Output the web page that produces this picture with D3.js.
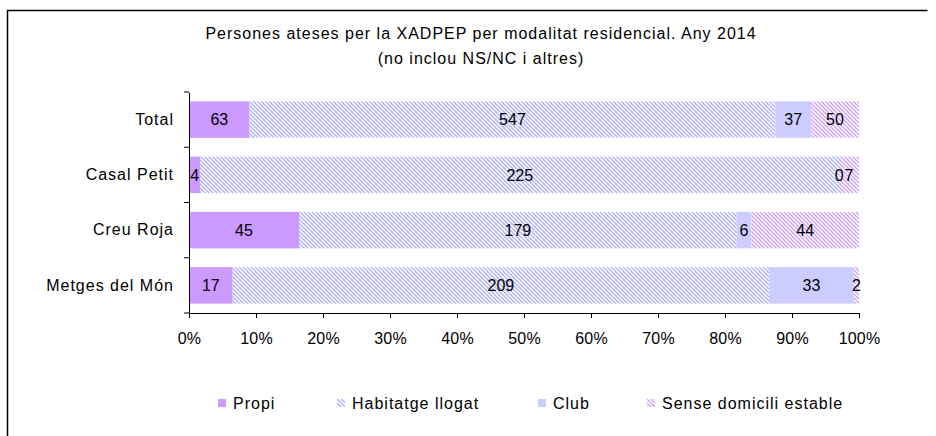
<!DOCTYPE html>
<html><head><meta charset="utf-8">
<script src="https://cdn.jsdelivr.net/npm/d3@7"></script>
<style>
body{margin:0;background:#fff}
text{font-family:"Liberation Sans",Arial,sans-serif;fill:#000}
</style>
</head><body>
<svg id="c" width="936" height="436"></svg>
<script>
const categories = ["Total", "Casal Petit", "Creu Roja", "Metges del Món"];
const seriesNames = ["Propi", "Habitatge llogat", "Club", "Sense domicili estable"];
const propi = [63, 4, 45, 17];
const habitatge = [547, 225, 179, 209];
const club = [37, 0, 6, 33];
const sense = [50, 7, 44, 2];
const xTicks = [0, 0.1, 0.2, 0.3, 0.4, 0.5, 0.6, 0.7, 0.8, 0.9, 1];
const titleLines = ["Persones ateses per la XADPEP per modalitat residencial. Any 2014", "(no inclou NS/NC i altres)"];

const FS = 16, LS = 1;
const svg = d3.select("#c");
const defs = svg.append("defs");
function hatch(id, color) {
  const p = defs.append("pattern").attr("id", id).attr("width", 4).attr("height", 4)
    .attr("patternUnits", "userSpaceOnUse");
  p.append("rect").attr("width", 4).attr("height", 4).attr("fill", "#fff");
  p.append("path").attr("d", "M-1,-1L5,5M-1,3L1,5M3,-1L5,1")
    .attr("stroke", color).attr("stroke-width", 1.3).attr("fill", "none");
}
hatch("hBlue", "#b0b0f6");
hatch("hPurple", "#d0a0fa");
const fills = ["#cc99ff", "url(#hBlue)", "#ccccff", "url(#hPurple)"];
const colorOf = d3.scaleOrdinal(seriesNames, fills);

// frame
svg.append("path").attr("d", "M7.5,436V10.5H927.5").attr("fill", "none").attr("stroke", "#000").attr("stroke-width", 1.5);

// title
svg.append("g").selectAll("text").data(titleLines).join("text")
  .attr("x", 481).attr("y", (d, i) => 39 + i * 25).attr("text-anchor", "middle")
  .style("font-size", FS + "px").style("letter-spacing", LS + "px").text(d => d);

const rows = categories.map((c, i) => ({
  cat: c, "Propi": propi[i], "Habitatge llogat": habitatge[i], "Club": club[i], "Sense domicili estable": sense[i]
}));
const stack = d3.stack().keys(seriesNames).offset(d3.stackOffsetExpand)(rows);

const x = d3.scaleLinear([0, 1], [189, 859]);
const y = d3.scaleBand(categories, [92, 313]).paddingInner(0.34).paddingOuter(0.17);

const gBars = svg.append("g");
stack.forEach(s => {
  gBars.append("g").attr("fill", colorOf(s.key)).selectAll("rect").data(s).join("rect")
    .attr("x", d => x(d[0])).attr("width", d => x(d[1]) - x(d[0]))
    .attr("y", d => y(d.data.cat)).attr("height", y.bandwidth());
});
const gLab = svg.append("g");
stack.forEach(s => {
  gLab.append("g").selectAll("text").data(s).join("text")
    .attr("x", d => x((d[0] + d[1]) / 2)).attr("y", d => y(d.data.cat) + y.bandwidth() / 2)
    .attr("dy", "0.36em").attr("text-anchor", "middle")
    .style("font-size", FS + "px")
    .text(d => d.data[s.key]);
});

// x axis
const xa = svg.append("g").attr("transform", "translate(0,313)")
  .call(d3.axisBottom(x).tickValues(xTicks).tickFormat(d3.format(".0%")).tickSize(5).tickSizeOuter(0).tickPadding(15));
xa.select(".domain").attr("stroke", "#000");
xa.selectAll("text").style("font-size", FS + "px").style("letter-spacing", "0.2px").attr("font-family", null);

// y axis
const ya = svg.append("g").attr("transform", "translate(189,0)")
  .call(d3.axisLeft(y).tickSize(0).tickPadding(15).tickSizeOuter(0));
ya.select(".domain").attr("stroke", "#000");
ya.selectAll("text").style("font-size", FS + "px").style("letter-spacing", LS + "px").attr("font-family", null);
const bounds = categories.map(c => y(c) - y.step() * y.paddingInner() / 2).concat([313]);
ya.selectAll("line.bt").data(bounds).join("line").attr("class", "bt")
  .attr("x1", -5).attr("x2", 0).attr("y1", d => d).attr("y2", d => d).attr("stroke", "#000");

// legend
const legX = [218, 337, 538, 647];
const lg = svg.append("g").selectAll("g").data(seriesNames).join("g")
  .attr("transform", (d, i) => `translate(${legX[i]},403)`);
lg.append("rect").attr("x", 0).attr("y", -4).attr("width", 8).attr("height", 8).attr("fill", d => colorOf(d));
lg.append("text").attr("x", 15).attr("dy", "0.36em").style("font-size", FS + "px").style("letter-spacing", LS + "px").text(d => d);
</script>
</body></html>
